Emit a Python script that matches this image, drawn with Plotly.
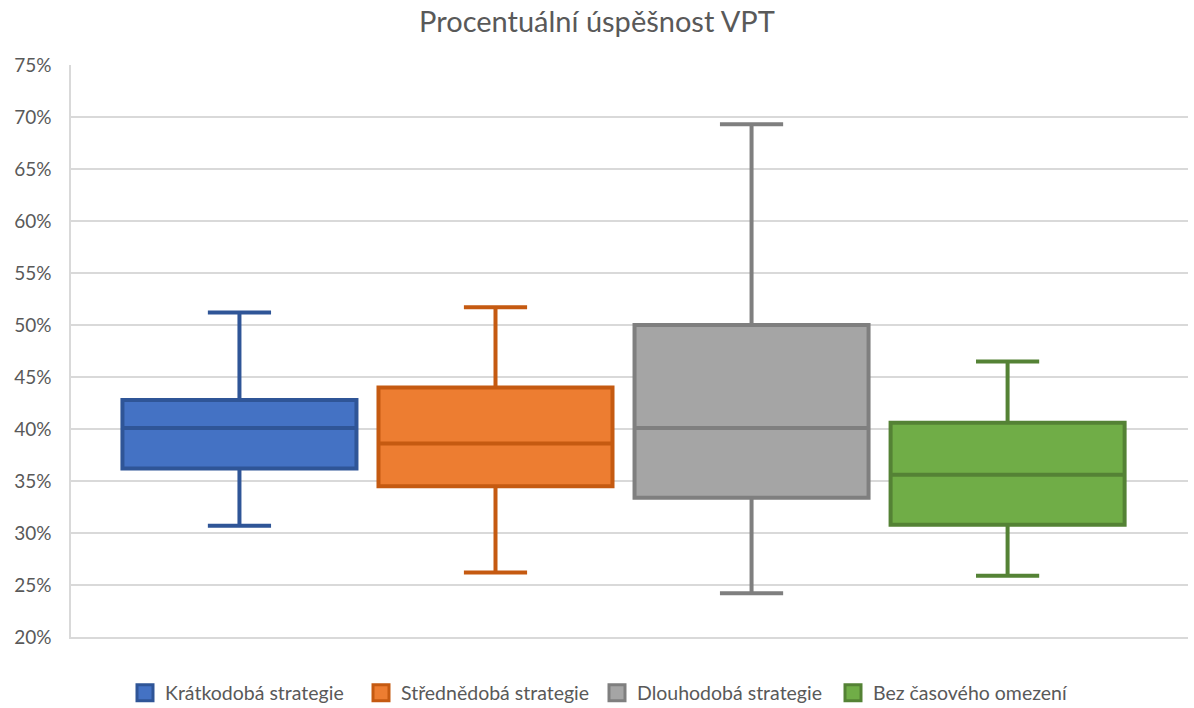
import plotly.graph_objects as go

series = ["Krátkodobá strategie", "Střednědobá strategie", "Dlouhodobá strategie", "Bez časového omezení"]
mins = [0.307, 0.262, 0.242, 0.259]
q1s = [0.362, 0.345, 0.334, 0.308]
medians = [0.401, 0.386, 0.401, 0.356]
q3s = [0.428, 0.440, 0.500, 0.406]
maxs = [0.512, 0.517, 0.693, 0.465]

fills = ["#4472C4", "#ED7D31", "#A5A5A5", "#70AD47"]
lines = ["#2F5597", "#C55A11", "#7F7F7F", "#548235"]

fig = go.Figure()
for i, name in enumerate(series):
    fig.add_trace(go.Box(
        name=name,
        x=["VPT"],
        q1=[q1s[i]], median=[medians[i]], q3=[q3s[i]],
        lowerfence=[mins[i]], upperfence=[maxs[i]],
        fillcolor=fills[i],
        line=dict(color=lines[i], width=4),
        whiskerwidth=0.27,
        boxpoints=False,
        hoverinfo="skip",
        showlegend=False,
    ))
for i, name in enumerate(series):
    fig.add_trace(go.Scatter(
        name=name, x=[None], y=[None], mode="markers",
        marker=dict(symbol="square", size=20, color=fills[i],
                    line=dict(color=lines[i], width=3)),
        showlegend=True, hoverinfo="skip",
    ))

fig.update_layout(
    width=1194, height=708,
    paper_bgcolor="white", plot_bgcolor="white",
    margin=dict(l=71, r=6, t=65, b=71),
    boxmode="group",
    boxgap=0.083,
    boxgroupgap=0.086,
    font=dict(family="Lato, Open Sans, sans-serif", color="#595959", size=19),
    title=dict(text="Procentuální úspěšnost VPT", x=0.5, xanchor="center",
               y=0.969, yanchor="middle",
               font=dict(size=29, color="#595959")),
    legend=dict(orientation="h", x=0.5, xref="container", xanchor="center",
                y=0.0212, yref="container", yanchor="middle",
                font=dict(size=19.5, color="#595959"), itemwidth=30,
                entrywidth=191, entrywidthmode="pixels"),
    xaxis=dict(showticklabels=False, range=[-0.4947, 0.5054], showgrid=False,
               zeroline=False, showline=True, linecolor="#D9D9D9", linewidth=1.5,
               automargin=False),
    yaxis=dict(range=[0.20, 0.75], dtick=0.05, tick0=0.20, tickformat=".0%",
               showgrid=True, gridcolor="#D9D9D9", gridwidth=1.5,
               showline=True, linecolor="#D9D9D9", linewidth=1.5,
               zeroline=False, ticks="", ticklabelstandoff=14, automargin=False,
               tickfont=dict(size=19, color="#595959")),
)

fig.write_html("out.html", config={"displayModeBar": False},
               post_script="document.body.style.margin='0';")
